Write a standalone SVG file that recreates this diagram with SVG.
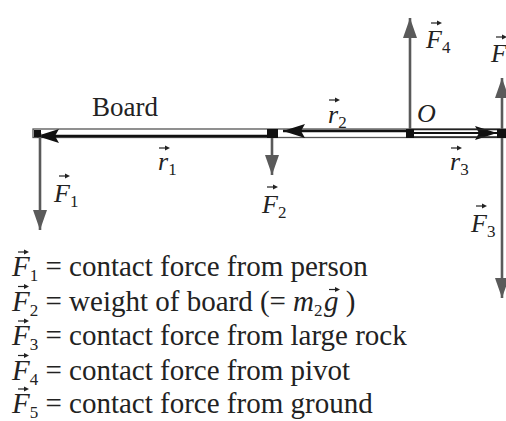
<svg xmlns="http://www.w3.org/2000/svg" width="506" height="421" viewBox="0 0 506 421">
<style>
text{font-family:"Liberation Serif","Times New Roman",serif;fill:#222}
.lbl{font-size:26px}
.leg{font-size:29px}
.sub{font-size:17px}
.i{font-style:italic}
.force{stroke:#5a5a5a;stroke-width:2.6;fill:none}
.rvec{stroke:#111;stroke-width:2.6;fill:none}
</style>
<defs>
<marker id="fh" markerUnits="userSpaceOnUse" markerWidth="20" markerHeight="14" refX="20" refY="7" orient="auto"><path d="M0,0 L20,7 L0,14 z" fill="#5a5a5a"/></marker>
<marker id="rh" markerUnits="userSpaceOnUse" markerWidth="22" markerHeight="14" refX="22" refY="7" orient="auto"><path d="M0,0 L22,7 L0,14 L4,7 z" fill="#111"/></marker>
<g id="vec"><line x1="0" y1="0" x2="8" y2="0" stroke="#222" stroke-width="1.2"/><path d="M6,-2.6 L11,0 L6,2.6 z" fill="#222"/></g>
</defs>

<g id="board">
<rect x="33" y="129" width="480" height="8.5" fill="#fff" stroke="#555" stroke-width="1.3"/>
<text x="92" y="116" style="font-size:27px">Board</text>
</g>

<g id="connectors">
<line class="rvec" x1="272" y1="136" x2="37" y2="136" marker-end="url(#rh)"/>
<line class="rvec" x1="410" y1="131" x2="283" y2="131" marker-end="url(#rh)"/>
<line class="rvec" x1="410" y1="133" x2="497" y2="133" marker-end="url(#rh)" style="stroke-width:2"/>
<line x1="410" y1="129.5" x2="500" y2="129.5" stroke="#222" stroke-width="1.5"/>
<line x1="410" y1="137" x2="500" y2="137" stroke="#222" stroke-width="1.5"/>
<line class="force" x1="40" y1="133" x2="40" y2="230" marker-end="url(#fh)"/>
<line class="force" x1="272" y1="138" x2="272" y2="175" marker-end="url(#fh)"/>
<line class="force" x1="410" y1="131" x2="410" y2="18" marker-end="url(#fh)"/>
<line class="force" x1="502" y1="130" x2="502" y2="78" marker-end="url(#fh)"/>
<line class="force" x1="502" y1="132" x2="502" y2="298" marker-end="url(#fh)"/>
<rect x="267" y="129" width="11" height="9" fill="#111"/>
<rect x="406" y="129" width="8" height="9" fill="#111"/>
<rect x="497" y="129" width="9" height="9" fill="#111"/>
<rect x="34" y="130" width="7" height="7" fill="#111"/>
</g>

<g id="label-r1"><text class="lbl" x="158" y="170"><tspan class="i">r</tspan><tspan class="sub" dy="5">1</tspan></text><use href="#vec" x="159" y="148"/></g>
<g id="label-r2"><text class="lbl" x="328" y="123"><tspan class="i">r</tspan><tspan class="sub" dy="5">2</tspan></text><use href="#vec" x="329" y="100"/></g>
<g id="label-r3"><text class="lbl" x="450" y="170"><tspan class="i">r</tspan><tspan class="sub" dy="5">3</tspan></text><use href="#vec" x="451" y="148"/></g>
<g id="label-O"><text class="lbl i" x="417" y="122">O</text></g>
<g id="label-F1"><text class="lbl" x="54" y="202"><tspan class="i">F</tspan><tspan class="sub" dy="5">1</tspan></text><use href="#vec" x="59" y="176"/></g>
<g id="label-F2"><text class="lbl" x="262" y="213"><tspan class="i">F</tspan><tspan class="sub" dy="5">2</tspan></text><use href="#vec" x="267" y="187"/></g>
<g id="label-F3"><text class="lbl" x="471" y="232"><tspan class="i">F</tspan><tspan class="sub" dy="5">3</tspan></text><use href="#vec" x="476" y="206"/></g>
<g id="label-F4"><text class="lbl" x="426" y="48"><tspan class="i">F</tspan><tspan class="sub" dy="5">4</tspan></text><use href="#vec" x="431" y="23"/></g>
<g id="label-F5"><text class="lbl" x="491" y="62"><tspan class="i">F</tspan></text><use href="#vec" x="496" y="37"/></g>

<g id="legend">
<text class="leg" x="12" y="276"><tspan class="i">F</tspan><tspan class="sub" dy="5">1</tspan><tspan dy="-5"> = contact force from person</tspan></text>
<use href="#vec" x="18" y="252"/>
<text class="leg" x="12" y="310.5"><tspan class="i">F</tspan><tspan class="sub" dy="5">2</tspan><tspan dy="-5"> = weight of board (=</tspan><tspan class="i" x="293">m</tspan><tspan class="sub" dy="5">2</tspan><tspan class="i" dy="-5" x="324">g</tspan><tspan> )</tspan></text>
<use href="#vec" x="18" y="286.5"/>
<use href="#vec" x="329" y="289.5"/>
<text class="leg" x="12" y="345"><tspan class="i">F</tspan><tspan class="sub" dy="5">3</tspan><tspan dy="-5"> = contact force from large rock</tspan></text>
<use href="#vec" x="18" y="321"/>
<text class="leg" x="12" y="379.5"><tspan class="i">F</tspan><tspan class="sub" dy="5">4</tspan><tspan dy="-5"> = contact force from pivot</tspan></text>
<use href="#vec" x="18" y="355.5"/>
<text class="leg" x="12" y="413"><tspan class="i">F</tspan><tspan class="sub" dy="5">5</tspan><tspan dy="-5"> = contact force from ground</tspan></text>
<use href="#vec" x="18" y="389"/>
</g>
</svg>
